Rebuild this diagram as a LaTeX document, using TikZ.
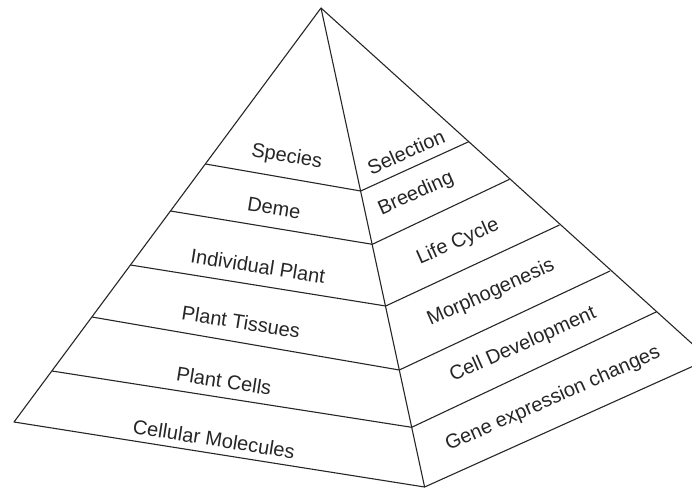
\documentclass[tikz,border=0pt]{standalone}
\usepackage{fontspec}
\setmainfont{Liberation Sans}
\begin{document}
\begin{tikzpicture}[x=1pt,y=-1pt,
  edge/.style={line width=1.1pt, line join=round, draw=black!85},
  lbl/.style={font=\fontsize{20}{24}\selectfont, text=black!85, inner sep=0pt},
  lft/.style={lbl, rotate=-9},
  rgt/.style={lbl, rotate=24}]
\useasboundingbox (0,0) rectangle (692,489);
\clip (0,0) rectangle (692,489);
% corners
\coordinate (A) at (321,8);
\coordinate (L) at (14,422);
\coordinate (F) at (424.6,487);
\coordinate (R) at (709,359);
% left edge points
\coordinate (l1) at (205.5,164);
\coordinate (l2) at (170.5,211);
\coordinate (l3) at (130.5,265);
\coordinate (l4) at (92,317);
\coordinate (l5) at (52,371);
% ridge points
\coordinate (m1) at (360.7,191);
\coordinate (m2) at (372.3,244.3);
\coordinate (m3) at (385.7,306);
\coordinate (m4) at (399.3,370);
\coordinate (m5) at (411.7,427.3);
% right edge points
\coordinate (r1) at (468.7,141.7);
\coordinate (r2) at (509.5,179.3);
\coordinate (r3) at (559.5,225);
\coordinate (r4) at (610,271);
\coordinate (r5) at (656.7,311.7);
% outline
\draw[edge] (L) -- (A) -- (R) -- (F) -- cycle;
\draw[edge] (A) -- (F);
% layer lines
\foreach \i in {1,...,5}{
  \draw[edge] (l\i) -- (m\i) -- (r\i);
}
% labels, left face
\node[lft] (species) at (286.7,157) {Species};
\node[lft] (deme) at (274,208) {Deme};
\node[lft] (indiv) at (258,266) {Individual Plant};
\node[lft] (tissues) at (241,322) {Plant Tissues};
\node[lft] (cells) at (224,381) {Plant Cells};
\node[lft] (molec) at (214,439) {Cellular Molecules};
% labels, right face
\node[rgt] (selection) at (406,152) {Selection};
\node[rgt] (breeding) at (416,194) {Breeding};
\node[rgt] (life) at (458,242) {Life Cycle};
\node[rgt] (morph) at (491,293) {Morphogenesis};
\node[rgt] (celldev) at (523,345) {Cell Development};
\node[rgt] (gene) at (553,399) {Gene expression changes};
\end{tikzpicture}
\end{document}
